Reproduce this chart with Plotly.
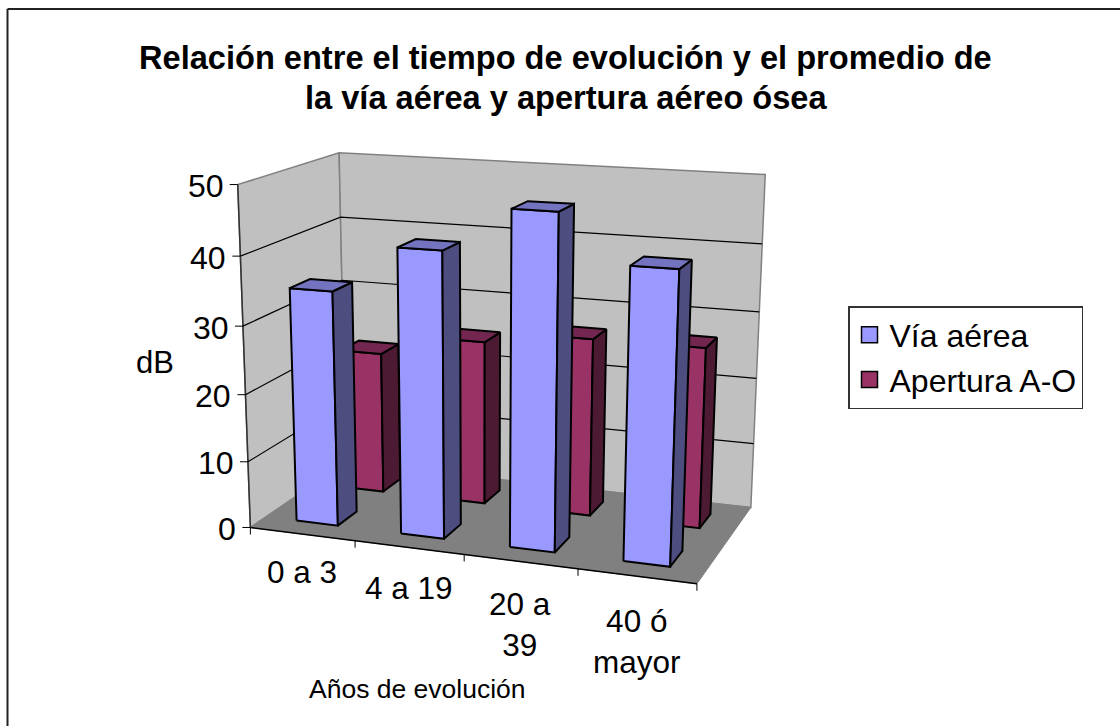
import numpy as np
import plotly.graph_objects as go

# ---------- data ----------
categories = ["0 a 3", "4 a 19", "20 a<br>39", "40 ó<br>mayor"]
via_aerea = [34.8, 41.7, 48.0, 41.4]
apertura = [21.8, 25.0, 26.8, 26.9]
value_ticks = [0, 10, 20, 30, 40, 50]
series_names = ["Vía aérea", "Apertura A-O"]
title_lines = ["Relación entre el tiempo de evolución y el promedio de", "la vía aérea y apertura aéreo ósea"]

# ---------- styling ----------
FONT = "Liberation Sans"
BLUE = dict(front="#9999FF", side="#4D4D80", top="#7373BF")
RED = dict(front="#993366", side="#4D1A33", top="#732650")
WALL = "#C0C0C0"
FLOOR = "#808080"
W, H = 1120, 726

# ---------- 3-D box -> paper projection (category, depth, value) ----------
U_MAX, V_MAX, W_MAX = len(categories), 1.0, 50.0
_calib = [
    ((0, 0, 0), (251, 525)), ((U_MAX, 0, 0), (697, 586)),
    ((U_MAX, 1, 0), (751, 505)), ((0, 1, 0), (345, 465)),
    ((0, 0, W_MAX), (237, 185)), ((0, 1, W_MAX), (340, 152)),
    ((U_MAX, 1, W_MAX), (765, 175)),
]
_A = []
for (a, b, c), (px, py) in _calib:
    _A.append([a, b, c, 1, 0, 0, 0, 0, -px * a, -px * b, -px * c, -px])
    _A.append([0, 0, 0, 0, a, b, c, 1, -py * a, -py * b, -py * c, -py])
_P = np.linalg.svd(np.array(_A, float))[2][-1].reshape(3, 4)


def project(u, v, val):
    q = _P @ np.array([u, v, val, 1.0])
    return float(q[0] / q[2]), float(q[1] / q[2])


fig = go.Figure()


def poly(points, fill, line="#000000", width=2):
    pts = [project(*p) for p in points]
    pts.append(pts[0])
    fig.add_trace(go.Scatter(
        x=[p[0] for p in pts], y=[p[1] for p in pts], mode="lines", fill="toself",
        fillcolor=fill, line=dict(color=line, width=width), hoverinfo="skip", showlegend=False))


def seg(points, color="#000000", width=1.0):
    pts = [project(*p) for p in points]
    fig.add_trace(go.Scatter(
        x=[p[0] for p in pts], y=[p[1] for p in pts], mode="lines",
        line=dict(color=color, width=width), hoverinfo="skip", showlegend=False))


# walls and floor
poly([(0, 0, 0), (0, 1, 0), (0, 1, W_MAX), (0, 0, W_MAX)], WALL, "#808080", 1.5)
poly([(0, 1, 0), (U_MAX, 1, 0), (U_MAX, 1, W_MAX), (0, 1, W_MAX)], WALL, "#808080", 1.5)
poly([(0, 0, 0), (U_MAX, 0, 0), (U_MAX, 1, 0), (0, 1, 0)], FLOOR, FLOOR, 1)
seg([(0, 0, 0), (U_MAX, 0, 0)], "#000000", 1.5)
seg([(0, 0, 0), (0, 0, W_MAX)], "#333333", 1.5)

# gridlines
for t in value_ticks[1:-1]:
    seg([(0, 0, t), (0, 1, t), (U_MAX, 1, t)], "#000000", 1.2)

# ticks on the axes
for t in value_ticks:
    px, py = project(0, 0, t)
    fig.add_trace(go.Scatter(x=[px - 8, px], y=[py, py], mode="lines",
                             line=dict(color="#000000", width=1), hoverinfo="skip", showlegend=False))
for i in range(len(categories) + 1):
    px, py = project(i, 0, 0)
    fig.add_trace(go.Scatter(x=[px, px], y=[py, py + 7], mode="lines",
                             line=dict(color="#000000", width=1), hoverinfo="skip", showlegend=False))


def bar(i, v0, v1, val, col):
    u0, u1 = i + 0.3, i + 0.7
    poly([(u0, v0, 0), (u1, v0, 0), (u1, v0, val), (u0, v0, val)], col["front"])
    poly([(u1, v0, 0), (u1, v1, 0), (u1, v1, val), (u1, v0, val)], col["side"])
    poly([(u0, v0, val), (u1, v0, val), (u1, v1, val), (u0, v1, val)], col["top"])


for i, val in enumerate(apertura):
    bar(i, 0.65, 0.85, val, RED)
for i, val in enumerate(via_aerea):
    bar(i, 0.15, 0.35, val, BLUE)

# legend entries
for name, col in zip(series_names, (BLUE, RED)):
    fig.add_trace(go.Scatter(
        x=[None], y=[None], mode="markers", name=name,
        marker=dict(symbol="square", size=16, color=col["front"], line=dict(color="#000000", width=1.5))))

ann = []
for t in value_ticks:
    px, py = project(0, 0, t)
    ann.append(dict(x=px - 12, y=py + 1.5, xref="x", yref="y", text=str(t), showarrow=False,
                    xanchor="right", yanchor="middle", font=dict(size=32, family=FONT, color="#000")))
for i, c in enumerate(categories):
    px, py = project(i + 0.5, 0, 0)
    ann.append(dict(x=px, y=py + 18 + 2.3 * i, xref="x", yref="y", text=c, showarrow=False,
                    xanchor="center", yanchor="top", font=dict(size=31.5, family=FONT, color="#000")))
ann.append(dict(x=155, y=362, xref="x", yref="y", text="dB", showarrow=False,
                font=dict(size=31, family=FONT, color="#000")))
ann.append(dict(x=417, y=689, xref="x", yref="y", text="Años de evolución", showarrow=False,
                font=dict(size=26.5, family=FONT, color="#000")))
for line, ty in zip(title_lines, (57, 97)):
    ann.append(dict(x=565.5, y=ty, xref="x", yref="y", text="<b>" + line + "</b>",
                    showarrow=False, font=dict(size=32.6, family=FONT, color="#000")))

fig.update_layout(
    width=W, height=H, margin=dict(l=0, r=0, t=0, b=0),
    paper_bgcolor="#FFFFFF", plot_bgcolor="#FFFFFF",
    xaxis=dict(range=[0, W], visible=False, fixedrange=True),
    yaxis=dict(range=[H, 0], visible=False, fixedrange=True),
    annotations=ann,
    shapes=[
        dict(type="line", xref="x", yref="y", x0=7.5, x1=7.5, y0=9, y1=H,
             line=dict(color="#222222", width=2), layer="above"),
        dict(type="line", xref="x", yref="y", x0=7.5, x1=W, y0=9, y1=9,
             line=dict(color="#222222", width=2), layer="above"),
    ],
    legend=dict(x=848 / W, y=1 - 306 / H, xanchor="left", yanchor="top",
                bgcolor="#FFFFFF", bordercolor="#333333", borderwidth=1.5,
                font=dict(size=32, family=FONT, color="#000")),
)
fig.write_html("out.html", config=dict(displayModeBar=False),
               post_script="document.body.style.margin='0';document.body.style.overflow='hidden';")
